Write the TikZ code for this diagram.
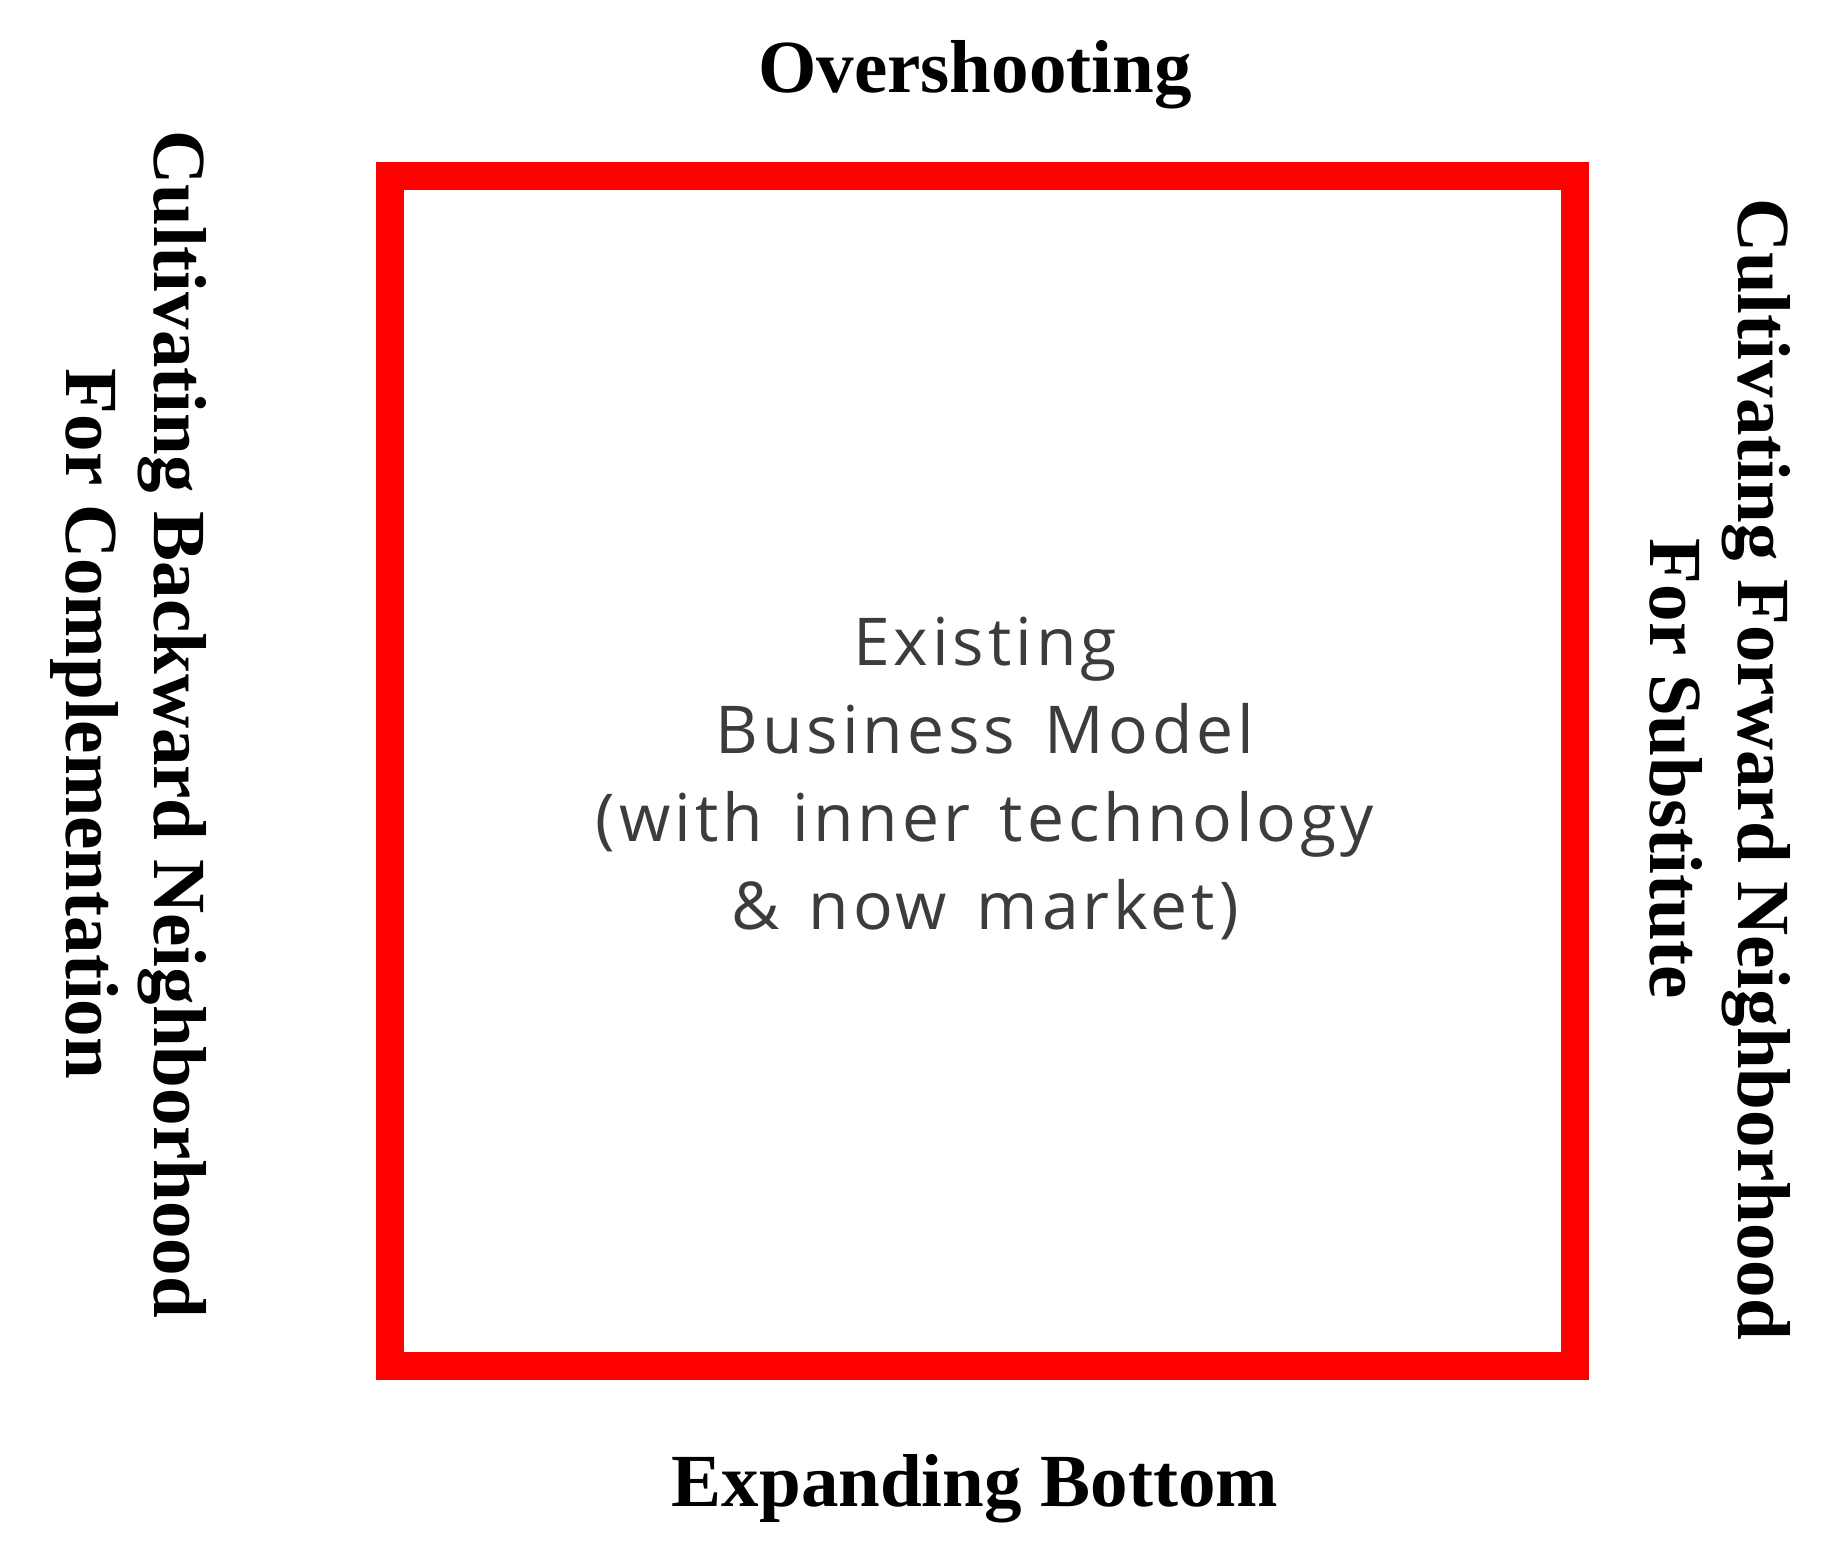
\documentclass[tikz,border=0pt]{standalone}
\usepackage{fontspec}
\setmainfont{Liberation Serif}
\newfontfamily\modelfont[LetterSpace=6,WordSpace=1.4]{Open Sans}
\definecolor{boxred}{RGB}{255,0,0}
\definecolor{modelgray}{RGB}{60,60,60}
\begin{document}
\begin{tikzpicture}[x=0.5pt,y=-0.5pt,
  label/.style={font=\fontsize{37.5pt}{44pt}\selectfont\bfseries, text=black, inner sep=0pt, align=center},
  sidelabel/.style={label, rotate=-90},
  modelbox/.style={draw=boxred, line width=14pt, inner sep=0pt, minimum width=592.5pt, minimum height=595pt},
  modeltext/.style={font=\modelfont\fontsize{33pt}{44pt}\selectfont, text=modelgray, inner sep=0pt, align=center}]
\useasboundingbox (0,0) rectangle (1846,1554);
\node[modelbox] (box) at (982.5,771) {};
\node[modeltext] (model) at (985,778) {Existing\\Business Model\\(with inner technology\\\& now market)};
\node[label, anchor=base] (top) at (975,92) {Overshooting};
\node[label, anchor=base] (bottom) at (975,1506) {Expanding Bottom};
\node[sidelabel] (left) at (129,724) {Cultivating Backward Neighborhood\\For Complementation};
\node[sidelabel] (right) at (1720,769) {Cultivating Forward Neighborhood\\For Substitute};
\end{tikzpicture}
\end{document}
